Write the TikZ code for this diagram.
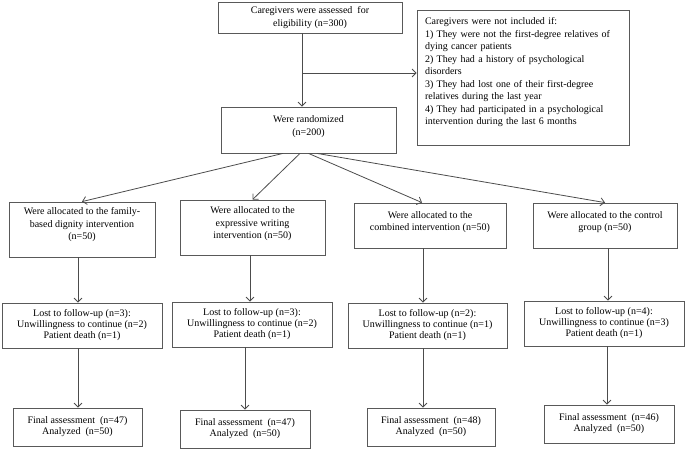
\documentclass[tikz,border=0pt]{standalone}
\usepackage{fontspec}
\setmainfont{Liberation Serif}
\usetikzlibrary{arrows.meta}

\begin{document}
\begin{tikzpicture}[x=1pt,y=-1pt,
        box/.style={draw=black!65, line width=0.8pt, align=center, inner sep=2pt,
                    font=\fontsize{10}{12.5}\selectfont},
        tight/.style={box, font=\fontsize{10}{11}\selectfont},
        line/.style={draw=black!70, line width=0.8pt},
        >={Straight Barb[length=4pt,width=8pt]}]
        \useasboundingbox (0,0) rectangle (685,450);

        \node[box, minimum width=184pt, minimum height=31pt](S) at (310,17.5)
            {Caregivers were assessed\ \ for\\eligibility (n=300)};
        \node[box, align=left, text width=196pt, inner xsep=8pt, inner ysep=0pt,
              minimum height=135pt](X) at (523,77.5)
            {Caregivers were not included if:\\
             1) They were not the first-degree relatives of\\
             dying cancer patients\\
             2) They had a history of psychological\\
             disorders\\
             3) They had lost one of their first-degree\\
             relatives during the last year\\
             4) They had participated in a psychological\\
             intervention during the last 6 months\\
             \mbox{}};
        \node[box, minimum width=175pt, minimum height=46pt](R) at (308.5,130)
            {Were randomized\\(n=200)\\[-4pt]\mbox{}};

        \node[box, minimum width=146pt, minimum height=55pt](A1) at (82,229.5)
            {Were allocated to the family-\\based dignity intervention\\(n=50)\\[-1pt]\mbox{}};
        \node[box, minimum width=145pt, minimum height=55pt](A2) at (252.5,227.5)
            {Were allocated to the\\expressive writing\\intervention (n=50)\\[-3pt]\mbox{}};
        \node[box, minimum width=152pt, minimum height=45pt](A3) at (430,225.5)
            {Were allocated to the\\combined intervention (n=50)\\[-4pt]\mbox{}};
        \node[box, minimum width=144pt, minimum height=45pt](A4) at (605,225.5)
            {Were allocated to the control\\group (n=50)\\[-4pt]\mbox{}};

        \node[tight, minimum width=160pt, minimum height=45pt](L1) at (82,325.5)
            {Lost to follow-up (n=3):\\Unwillingness to continue (n=2)\\Patient death (n=1)};
        \node[tight, minimum width=160pt, minimum height=45pt](L2) at (252,324.5)
            {Lost to follow-up (n=3):\\Unwillingness to continue (n=2)\\Patient death (n=1)};
        \node[tight, minimum width=159pt, minimum height=45pt](L3) at (427.5,325.5)
            {Lost to follow-up (n=2):\\Unwillingness to continue (n=1)\\Patient death (n=1)};
        \node[tight, minimum width=160pt, minimum height=45pt](L4) at (604,323.5)
            {Lost to follow-up (n=4):\\Unwillingness to continue (n=3)\\Patient death (n=1)};

        \node[tight, minimum width=129pt, minimum height=38pt](F1) at (77.5,427)
            {Final assessment\ \ (n=47)\\Analyzed\ \ (n=50)};
        \node[tight, minimum width=130pt, minimum height=38pt](F2) at (245,429)
            {Final assessment\ \ (n=47)\\Analyzed\ \ (n=50)};
        \node[tight, minimum width=128pt, minimum height=38pt](F3) at (431,427)
            {Final assessment\ \ (n=48)\\Analyzed\ \ (n=50)};
        \node[tight, minimum width=130pt, minimum height=38pt](F4) at (609,424)
            {Final assessment\ \ (n=46)\\Analyzed\ \ (n=50)};

        % exclusion branch
        \coordinate (split) at (302,73);
        \draw[line, ->] ([xshift=-8pt]S.south) -- ([xshift=-6.5pt]R.north);
        \draw[line, ->] (split) -- (X.west |- split);

        % allocation
        \path[line]
            ([xshift=-25.5pt]R.south) edge [->] (A1.north)
            ([xshift=-8.5pt]R.south)  edge [->] (A2.north)
            (R.south)                 edge [->] ([xshift=-8pt]A3.north)
            ([xshift=8.5pt]R.south)   edge [->] (A4.north);

        % follow-up columns
        \foreach \i/\xa/\xb in {1/78/78, 2/250/245, 3/423/423, 4/608/607} {
            \coordinate (up\i) at (\xa,0);
            \coordinate (dn\i) at (\xb,0);
        }
        \foreach \i in {1,...,4} {
            \draw[line, ->] (A\i.south -| up\i) -- (L\i.north -| up\i);
            \draw[line, ->] (L\i.south -| dn\i) -- (F\i.north -| dn\i);
        }
    \end{tikzpicture}
\end{document}
